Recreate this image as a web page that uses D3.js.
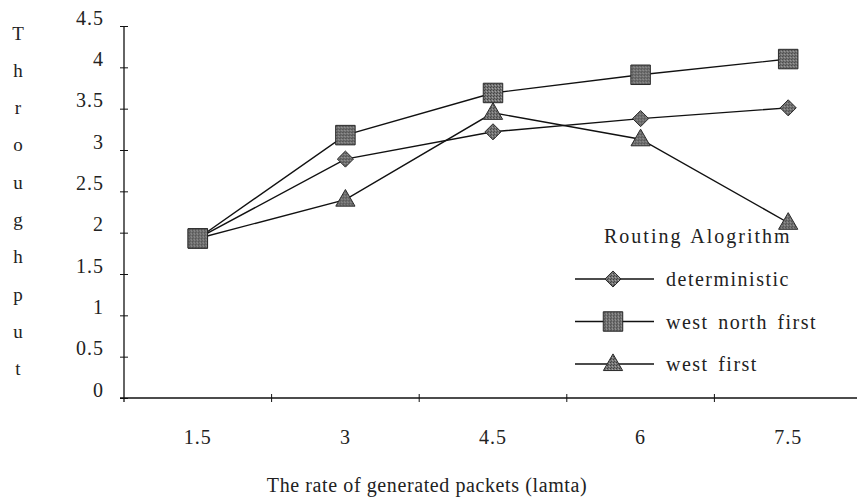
<!DOCTYPE html>
<html>
<head>
<meta charset="utf-8">
<script src="https://cdn.jsdelivr.net/npm/d3@7"></script>
<style>
  html, body { margin: 0; padding: 0; background: #fff; }
  svg { display: block; }
  text { font-family: "Liberation Serif", "Times New Roman", serif; fill: #222; }
</style>
</head>
<body>
<svg id="chart" width="857" height="504"></svg>
<script>
// Offered load (lamta) categories
const categories = ["1.5", "3", "4.5", "6", "7.5"];
// Throughput per routing algorithm
const deterministic = [1.93, 2.89, 3.22, 3.38, 3.51];
const westNorthFirst = [1.93, 3.18, 3.69, 3.91, 4.10];
const westFirst = [1.93, 2.40, 3.45, 3.13, 2.12];
const seriesNames = ["deterministic", "west north first", "west first"];
const yTicks = [0, 0.5, 1, 1.5, 2, 2.5, 3, 3.5, 4, 4.5];
const yTitle = "Throughput";
const xTitle = "The rate of generated packets (lamta)";
const legendTitle = "Routing Alogrithm";

const series = [
  { name: seriesNames[0], values: deterministic, shape: "diamond" },
  { name: seriesNames[1], values: westNorthFirst, shape: "square" },
  { name: seriesNames[2], values: westFirst, shape: "triangle" }
];

const svg = d3.select("#chart");

// stippled grey fill for the markers
const defs = svg.append("defs");
const pat = defs.append("pattern")
  .attr("id", "grain").attr("patternUnits", "userSpaceOnUse")
  .attr("width", 3).attr("height", 3);
pat.append("rect").attr("width", 3).attr("height", 3).attr("fill", "#747474");
pat.append("rect").attr("x", 0).attr("y", 0).attr("width", 1).attr("height", 1).attr("fill", "#3e3e3e");
pat.append("rect").attr("x", 2).attr("y", 1).attr("width", 1).attr("height", 1).attr("fill", "#a4a4a4");
pat.append("rect").attr("x", 1).attr("y", 2).attr("width", 1).attr("height", 1).attr("fill", "#4a4a4a");

const axisX0 = 124, axisY0 = 398;
const x = d3.scaleBand().domain(categories).range([axisX0, 862]).padding(0);
const y = d3.scaleLinear().domain([0, 4.5]).range([axisY0, 26]);
const cx = d => x(d) + x.bandwidth() / 2;

// Y axis with crossing ticks
const yAxis = svg.append("g").attr("transform", `translate(${axisX0},0)`)
  .call(d3.axisLeft(y).tickValues(yTicks).tickSize(5).tickFormat(d3.format("")));
yAxis.select(".domain").attr("d", `M0,${y(4.5)}V${axisY0 + 4}`).attr("stroke", "#111").attr("stroke-width", 1.3);
yAxis.selectAll(".tick line").attr("x1", -4).attr("x2", 4).attr("stroke", "#111");
yAxis.selectAll(".tick text")
  .attr("x", -20).attr("dy", "-0.1em")
  .style("font-size", "20px").style("letter-spacing", "1px")
  .attr("fill", "#222");

// X axis: labels at category centres, ticks at category boundaries
const xAxis = svg.append("g").attr("transform", `translate(0,${axisY0})`)
  .call(d3.axisBottom(x).tickSize(0).tickPadding(0));
xAxis.select(".domain").attr("d", `M${axisX0 - 4},0H862`).attr("stroke", "#111").attr("stroke-width", 1.3);
xAxis.selectAll(".tick text")
  .attr("y", 46).attr("dy", 0)
  .style("font-size", "20px").style("letter-spacing", "1px")
  .attr("fill", "#222");
xAxis.selectAll(".boundary")
  .data(categories.slice(1))
  .join("line")
  .attr("class", "boundary")
  .attr("x1", d => x(d)).attr("x2", d => x(d))
  .attr("y1", -4).attr("y2", 4)
  .attr("stroke", "#111");

// axis titles
svg.append("g").selectAll("text")
  .data(yTitle.split(""))
  .join("text")
  .attr("x", 18)
  .attr("y", (d, i) => 33 + i * 37.3)
  .attr("text-anchor", "middle")
  .attr("dominant-baseline", "central")
  .style("font-size", "19px")
  .text(d => d);

svg.append("text")
  .attr("x", 427).attr("y", 492)
  .attr("text-anchor", "middle")
  .style("font-size", "20px").style("letter-spacing", "0.6px")
  .text(xTitle);

// marker symbols
const shapes = {
  diamond: d3.symbol().type(d3.symbolDiamond2).size(165),
  square: d3.symbol().type(d3.symbolSquare).size(380),
  triangle: d3.symbol().type(d3.symbolTriangle).size(160)
};
const drawMarker = (g, shape) => g
  .attr("d", shapes[shape]())
  .attr("fill", "url(#grain)")
  .attr("stroke", "#2a2a2a").attr("stroke-width", 1);

const line = d3.line().x((d, i) => cx(categories[i])).y(d => y(d));

const plot = svg.append("g");
plot.selectAll(".series-line")
  .data(series)
  .join("path")
  .attr("class", "series-line")
  .attr("d", s => line(s.values))
  .attr("fill", "none")
  .attr("stroke", "#111")
  .attr("stroke-width", 1.4);

series.forEach(s => {
  plot.append("g").selectAll("path")
    .data(s.values)
    .join("path")
    .attr("transform", (d, i) => `translate(${cx(categories[i])},${y(d) + (s.shape === "triangle" ? 1 : 0)})`)
    .call(drawMarker, s.shape);
});
// the shared first point shows the square on top
plot.append("path")
  .attr("transform", `translate(${cx(categories[0])},${y(westNorthFirst[0])})`)
  .call(drawMarker, "square");

// legend
const legend = svg.append("g");
legend.append("text")
  .attr("x", 604).attr("y", 243)
  .style("font-size", "20px").style("letter-spacing", "2px").style("word-spacing", "2px")
  .text(legendTitle);
const rows = legend.selectAll(".row")
  .data(series)
  .join("g")
  .attr("class", "row")
  .attr("transform", (d, i) => `translate(0,${279 + i * 42.5})`);
rows.append("line")
  .attr("x1", 575).attr("x2", 654)
  .attr("stroke", "#111").attr("stroke-width", 1.4);
rows.append("path")
  .attr("transform", d => `translate(613,${d.shape === "triangle" ? 1 : 0})`)
  .each(function (d) { d3.select(this).call(drawMarker, d.shape); });
rows.append("text")
  .attr("x", 666).attr("y", 7)
  .style("font-size", "20px").style("letter-spacing", "1.5px").style("word-spacing", "3px")
  .text(d => d.name);
</script>
</body>
</html>
